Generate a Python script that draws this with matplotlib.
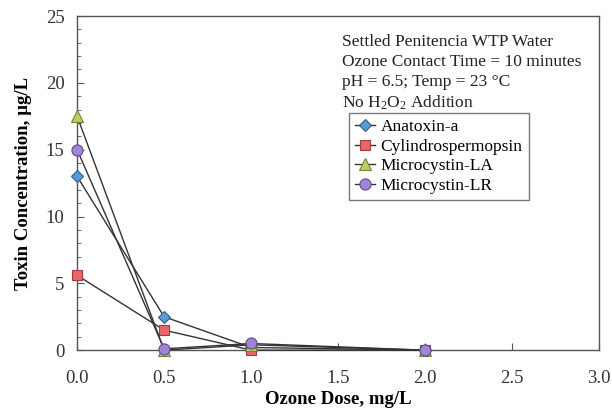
import matplotlib
matplotlib.use("Agg")
import matplotlib.pyplot as plt
from matplotlib.ticker import MultipleLocator

dose = [0.0, 0.5, 1.0, 2.0]
anatoxin = [13.0, 2.5, 0.2, 0.0]
cylindro = [5.6, 1.5, 0.0, 0.0]
mc_la = [17.5, 0.0, 0.4, 0.0]
mc_lr = [15.0, 0.1, 0.5, 0.0]

plt.rcParams["font.family"] = ["Liberation Serif", "DejaVu Serif"]
plt.rcParams["mathtext.fontset"] = "custom"
plt.rcParams["mathtext.rm"] = "Liberation Serif"
plt.rcParams["mathtext.it"] = "Liberation Serif:italic"
plt.rcParams["mathtext.bf"] = "Liberation Serif:bold"

fig = plt.figure(figsize=(6.12, 4.11), dpi=100)
ax = fig.add_axes([0.126, 0.148, 0.853, 0.813])

series = [
    ("Anatoxin-a", anatoxin, "D", "#5b9bd5", "#2f5f8f", 6),
    ("Cylindrospermopsin", cylindro, "s", "#e8676a", "#a33a3c", 7),
    ("Microcystin-LA", mc_la, "^", "#b9cf62", "#6f8530", 8),
    ("Microcystin-LR", mc_lr, "o", "#a284d4", "#5f4a8c", 8),
]
for name, vals, mk, fc, ec, ms in series:
    ax.plot(dose, vals, color="#333333", lw=1.0, marker=mk, ms=ms,
            markerfacecolor=fc, markeredgecolor=ec, markeredgewidth=0.8,
            label=name, clip_on=False, zorder=3)

ax.set_xlim(0, 3.0)
ax.set_ylim(0, 25)
ax.xaxis.set_major_locator(MultipleLocator(0.5))
ax.yaxis.set_major_locator(MultipleLocator(5))
ax.yaxis.set_minor_locator(MultipleLocator(1))
ax.tick_params(axis="both", which="both", direction="in", labelsize=13.5,
               color="#555555", labelcolor="#333333")
ax.tick_params(axis="y", which="major", length=5, pad=9)
ax.tick_params(axis="x", which="major", length=5, pad=14)
ax.tick_params(axis="y", which="minor", length=3)
ax.xaxis.set_major_formatter(plt.FuncFormatter(lambda v, p: f"{v:.1f}"))
for s in ax.spines.values():
    s.set_color("#555555")
    s.set_linewidth(1.0)

ax.set_xlabel("Ozone Dose, mg/L", fontsize=13.5, fontweight="bold", labelpad=3)
ax.set_ylabel("Toxin Concentration, µg/L", fontsize=13.5, fontweight="bold", labelpad=10)

ax.text(0.508, 0.945,
        "Settled Penitencia WTP Water\nOzone Contact Time = 10 minutes\n"
        "pH = 6.5; Temp = 23 °C\nNo H$_2$O$_2$ Addition",
        transform=ax.transAxes, fontsize=12.5, va="top", ha="left",
        linespacing=1.3, color="#222222")

leg = ax.legend(loc="upper left", bbox_to_anchor=(0.52, 0.71), fontsize=12.5,
                frameon=True, fancybox=False, edgecolor="#555555",
                handlelength=1.2, handletextpad=0.3, borderpad=0.35,
                labelspacing=0.2, borderaxespad=0)
leg.get_frame().set_linewidth(1.0)

fig.savefig("out.png", dpi=100)
